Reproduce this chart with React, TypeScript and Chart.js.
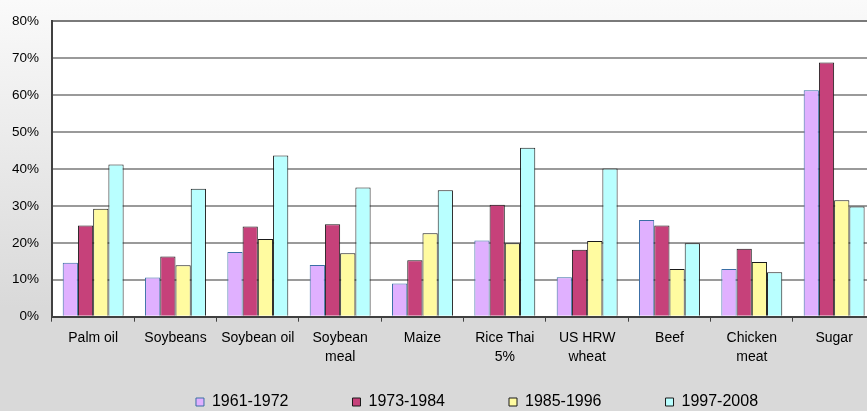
import React, { useEffect, useRef } from "react";
import { Chart, registerables } from "chart.js";

Chart.register(...registerables);

const categories: (string | string[])[] = [
  "Palm oil",
  "Soybeans",
  "Soybean oil",
  ["Soybean", "meal"],
  "Maize",
  ["Rice Thai", "5%"],
  ["US HRW", "wheat"],
  "Beef",
  ["Chicken", "meat"],
  "Sugar",
];

const seriesNames = ["1961-1972", "1973-1984", "1985-1996", "1997-2008"];

const s1961 = [14.6, 10.6, 17.5, 14.0, 9.0, 20.6, 10.7, 26.2, 12.9, 61.3];
const s1973 = [24.7, 16.3, 24.4, 25.0, 15.3, 30.3, 18.1, 24.7, 18.4, 68.8];
const s1985 = [29.2, 13.9, 21.0, 17.2, 22.6, 19.9, 20.5, 12.9, 14.8, 31.5];
const s1997 = [41.2, 34.6, 43.6, 35.0, 34.2, 45.7, 40.1, 19.9, 12.0, 29.8];

const yTicks = [0, 10, 20, 30, 40, 50, 60, 70, 80];

const FONT = "'Liberation Sans', Arial, sans-serif";

const whiteArea = {
  id: "whiteArea",
  beforeDraw(chart: any) {
    const { ctx, chartArea } = chart;
    ctx.save();
    ctx.fillStyle = "#ffffff";
    ctx.fillRect(chartArea.left, chartArea.top, chartArea.right - chartArea.left, chartArea.bottom - chartArea.top);
    ctx.restore();
  },
};

export default function App() {
  const ref = useRef<HTMLCanvasElement | null>(null);

  useEffect(() => {
    if (!ref.current) return;
    const mk = (label: string, data: number[], bg: string, border: string) => ({
      label,
      data,
      backgroundColor: bg,
      borderColor: border,
      borderWidth: 1,
      categoryPercentage: 0.74,
      barPercentage: 1.0,
    });
    const chart = new Chart(ref.current, {
      type: "bar",
      data: {
        labels: categories,
        datasets: [
          mk(seriesNames[0], s1961, "#E0B0FF", "#3A6EA5"),
          mk(seriesNames[1], s1973, "#C6417A", "#1a1a1a"),
          mk(seriesNames[2], s1985, "#FFFBA0", "#1a1a1a"),
          mk(seriesNames[3], s1997, "#B9FFFF", "#1a1a1a"),
        ],
      },
      options: {
        responsive: false,
        animation: false,
        devicePixelRatio: 1,
        layout: { padding: { top: 20, left: 0, right: 0, bottom: 0 } },
        plugins: {
          tooltip: { enabled: false },
          legend: {
            position: "bottom",
            labels: {
              boxWidth: 8,
              boxHeight: 8,
              padding: 64,
              color: "#000",
              font: { family: FONT, size: 16 },
            },
          },
        },
        scales: {
          x: {
            grid: {
              offset: true,
              drawOnChartArea: false,
              drawTicks: true,
              tickLength: 5,
              color: "#404040",
              lineWidth: 1,
            },
            border: { color: "#404040", width: 2 },
            ticks: {
              color: "#000",
              font: { family: FONT, size: 14, lineHeight: 1.35 },
              mirror: true,
              padding: -30.8,
              maxRotation: 0,
              autoSkip: false,
            },
            afterFit: (axis: any) => {
              axis.height = 13.3;
            },
          },
          y: {
            min: 0,
            max: 80,
            afterBuildTicks: (axis: any) => {
              axis.ticks = yTicks.map((v) => ({ value: v }));
            },
            grid: {
              drawTicks: false,
              color: (c: any) => (c.tick && c.tick.value === 80 ? "#7a7a7a" : "#9a9a9a"),
              lineWidth: 2,
            },
            border: { color: "#404040", width: 2 },
            ticks: {
              color: "#000",
              font: { family: FONT, size: 13.5 },
              padding: 13,
              callback: (v: any) => v + "%",
            },
            afterFit: (axis: any) => {
              axis.width = 52;
            },
          },
          y2: {
            type: "linear",
            position: "right",
            grid: { display: false },
            border: { display: false },
            ticks: { display: false },
            afterFit: (axis: any) => {
              axis.width = 78.7;
            },
          },
        },
      },
      plugins: [whiteArea],
    } as any);
    return () => chart.destroy();
  }, []);

  return (
    <div
      style={{
        position: "fixed",
        left: 0,
        top: 0,
        width: 867,
        height: 411,
        overflow: "hidden",
        background: "linear-gradient(#fafafa 0%, #e6e6e6 45%, #d9d9d9 75%, #d9d9d9 100%)",
      }}
    >
      <canvas ref={ref} width={954} height={420} style={{ display: "block", width: 954, height: 420 }} />
    </div>
  );
}
